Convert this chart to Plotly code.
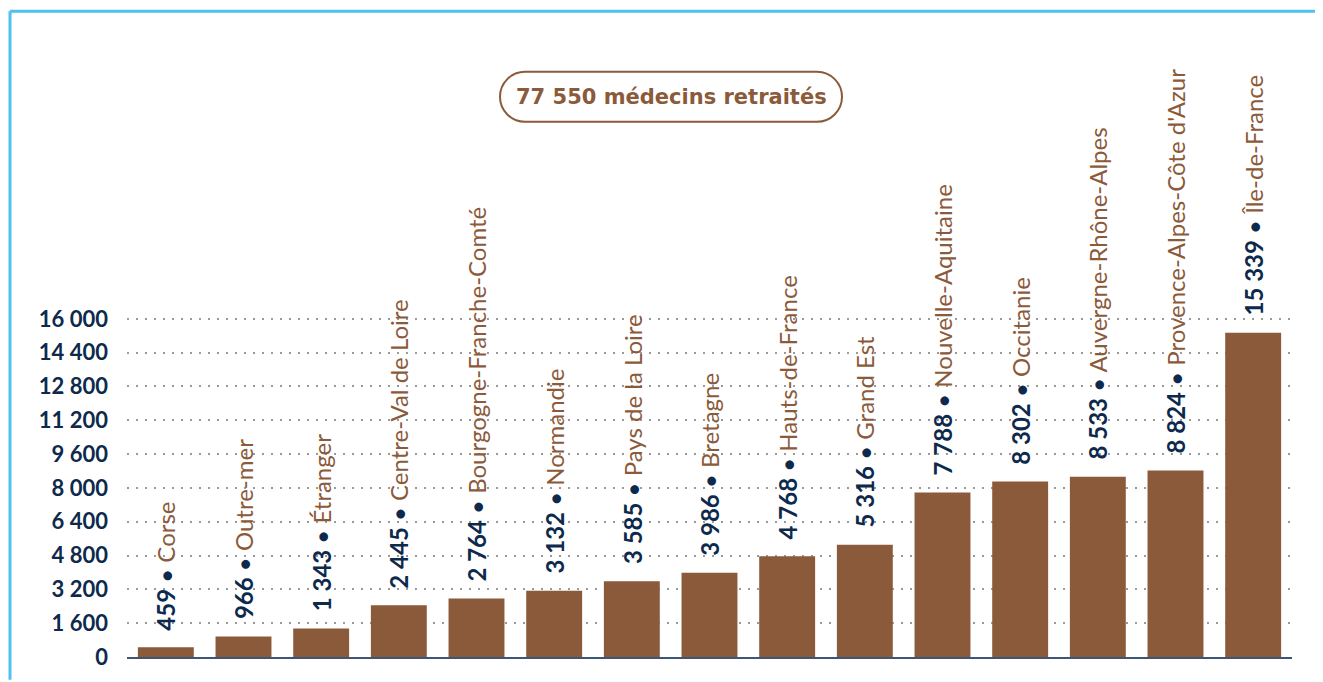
import plotly.graph_objects as go

regions = [
    "Corse", "Outre-mer", "Étranger", "Centre-Val de Loire",
    "Bourgogne-Franche-Comté", "Normandie", "Pays de la Loire", "Bretagne",
    "Hauts-de-France", "Grand Est", "Nouvelle-Aquitaine", "Occitanie",
    "Auvergne-Rhône-Alpes", "Provence-Alpes-Côte d'Azur", "Île-de-France",
]
retraites = [459, 966, 1343, 2445, 2764, 3132, 3585, 3986,
             4768, 5316, 7788, 8302, 8533, 8824, 15339]
y_ticks = [0, 1600, 3200, 4800, 6400, 8000, 9600, 11200, 12800, 14400, 16000]
titre = "77 550 médecins retraités"

BROWN = "#8B5A3A"
NAVY = "#0D2A4D"
BLUE = "#4FC1F0"

# the page body has an 8px margin: the figure is sized so the
# screen coordinates line up with the reference
OFF = 8
W, H = 1323 - OFF, 682 - OFF
ML, MR, MT, MB = 127 - OFF, 31, 15, 15
PW, PH = W - ML - MR, H - MT - MB


def px_x(px):
    # screen pixel -> paper
    return (px - OFF - ML) / PW


def px_y(py):
    return (H - MB - (py - OFF)) / PH


def fmt(v):
    return f"{v:,}".replace(",", " ")


fig = go.Figure()

fig.add_trace(go.Bar(
    x=regions,
    y=retraites,
    marker=dict(color=BROWN, line=dict(width=0)),
    hoverinfo="x+y",
))

# labels verticaux au-dessus des barres
for reg, val in zip(regions, retraites):
    fig.add_annotation(
        x=reg, y=val,
        text=(f"<span style='color:{NAVY}'><b>{fmt(val)}</b> • </span>"
              f"<span style='color:{BROWN}'>{reg}</span>"),
        textangle=-90,
        showarrow=False,
        xanchor="center", yanchor="bottom",
        yshift=15,
        font=dict(family="Lato, Noto Sans, sans-serif", size=24),
    )

# encadré du total (pilule arrondie)
cx, cy, hw, hh = 671, 98, 171, 25
r = hh
k = 0.5523 * r
path = (f"M {-hw + r},{-hh} L {hw - r},{-hh} "
        f"C {hw - r + k},{-hh} {hw},{-k} {hw},0 "
        f"C {hw},{k} {hw - r + k},{hh} {hw - r},{hh} "
        f"L {-hw + r},{hh} "
        f"C {-hw + r - k},{hh} {-hw},{k} {-hw},0 "
        f"C {-hw},{-k} {-hw + r - k},{-hh} {-hw + r},{-hh} Z")
fig.add_shape(
    type="path", path=path,
    xref="paper", yref="paper",
    xsizemode="pixel", ysizemode="pixel",
    xanchor=px_x(cx), yanchor=px_y(cy),
    line=dict(color=BROWN, width=2),
    fillcolor="white",
)
fig.add_annotation(
    x=px_x(cx), y=px_y(cy), xref="paper", yref="paper",
    text=f"<b>{titre}</b>",
    showarrow=False,
    xanchor="center", yanchor="middle",
    font=dict(family="DejaVu Sans, sans-serif", size=21, color=BROWN),
)

# cadre bleu (haut et gauche)
fig.add_shape(type="line", xref="paper", yref="paper",
              x0=px_x(10), x1=px_x(1330), y0=px_y(11), y1=px_y(11),
              line=dict(color=BLUE, width=3))
fig.add_shape(type="line", xref="paper", yref="paper",
              x0=px_x(10), x1=px_x(10), y0=px_y(11), y1=px_y(690),
              line=dict(color=BLUE, width=3))

fig.update_layout(
    width=W, height=H,
    margin=dict(l=ML, r=MR, t=MT, b=MB),
    paper_bgcolor="white",
    plot_bgcolor="white",
    showlegend=False,
    bargap=0.28,
    xaxis=dict(
        showticklabels=False, ticks="", showgrid=False,
        showline=True, linecolor="#3E5573", linewidth=1.5,
        zeroline=False,
    ),
    yaxis=dict(
        range=[0, 30000],
        tickvals=y_ticks,
        ticktext=[fmt(v) for v in y_ticks],
        tickfont=dict(family="Lato, Noto Sans, sans-serif", size=22, color=NAVY,
                      weight="bold"),
        showgrid=True, gridcolor="#9A9A9A", gridwidth=1.5, griddash="2px,7px",
        zeroline=False, showline=False, ticks="",
        ticklabelstandoff=18,
    ),
)

fig.write_html("out.html")
